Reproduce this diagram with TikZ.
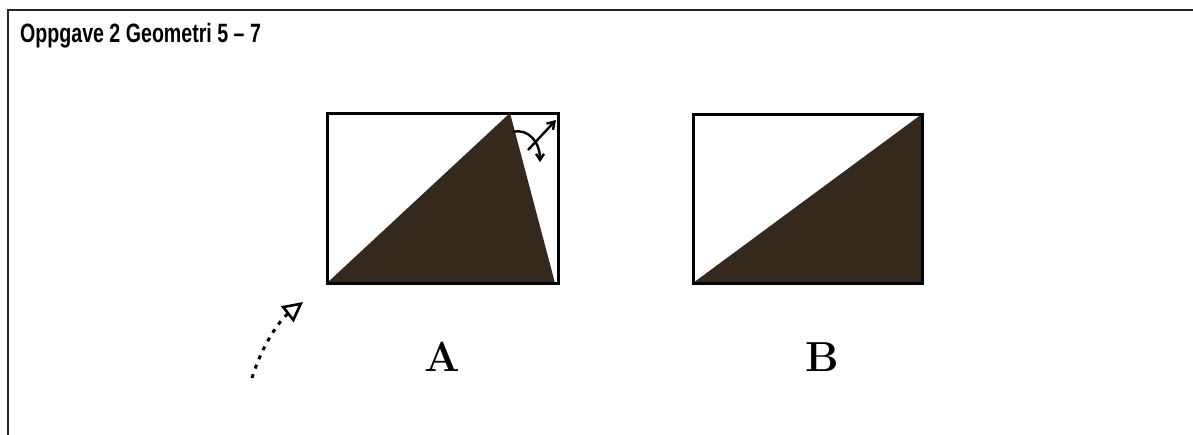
\documentclass[tikz,border=0pt]{standalone}
\usepackage{fontspec}
\newfontfamily\titlefont{Liberation Sans}
\usetikzlibrary{arrows.meta}
\definecolor{shade}{HTML}{35281D}
\tikzset{
  frame/.style={line width=2.6pt, black!85},
  box/.style={draw=black, line width=3pt},
  darkfill/.style={fill=shade},
  lbl/.style={font=\fontsize{42}{42}\selectfont, inner sep=0pt},
  titletext/.style={font=\titlefont\bfseries\fontsize{26.5}{26.5}\selectfont, inner sep=0pt, anchor=base west, xscale=0.74},
  rotmark/.style={line width=2.4pt, black}
}
\begin{document}
\begin{tikzpicture}[x=1pt,y=-1pt]
\useasboundingbox (0,0) rectangle (1193,434);
\fill[white] (0,0) rectangle (1193,434);
% outer frame (right and bottom run off the picture)
\draw[frame] (8,440) -- (8,10) -- (1200,10);
\node[titletext] (title) at (20,42) {Oppgave 2 Geometri 5 – 7};
% figure A
\coordinate (A1) at (327,283);
\coordinate (A2) at (558,113);
\coordinate (Aapex) at (510,113);
\coordinate (Abr) at (555,283);
\fill[darkfill] (A1) -- (Aapex) -- (Abr) -- cycle;
\draw[box] (A1) rectangle (A2);
% rotation mark near apex of A
\coordinate (r1) at (528,150);
\coordinate (r2) at (556,120);
\draw[rotmark, -{Straight Barb[length=7pt,width=9pt]}] (r1) -- (r2);
\coordinate (c1) at (513,132);
\coordinate (c2) at (540,162);
\draw[rotmark, -{Straight Barb[length=6pt,width=8pt]}] (c1) .. controls (528,128) and (540,142) .. (c2);
% figure B
\coordinate (B1) at (693,283);
\coordinate (B2) at (922,114);
\fill[darkfill] (B1) -- (922,114) -- (922,283) -- cycle;
\draw[box] (B1) rectangle (B2);
% labels
\node[lbl] (la) at (442,357) {\bfseries A};
\node[lbl] (lb) at (822,357) {\bfseries B};
% dotted arrow
\coordinate (d1) at (252,378);
\coordinate (d2) at (303,302);
\draw[line width=3pt, dash pattern=on 4pt off 6pt, -{Triangle[open,length=20pt,width=20pt,line width=2.6pt]}] (d1) .. controls (262,345) and (280,320) .. (d2);
\end{tikzpicture}
\end{document}
